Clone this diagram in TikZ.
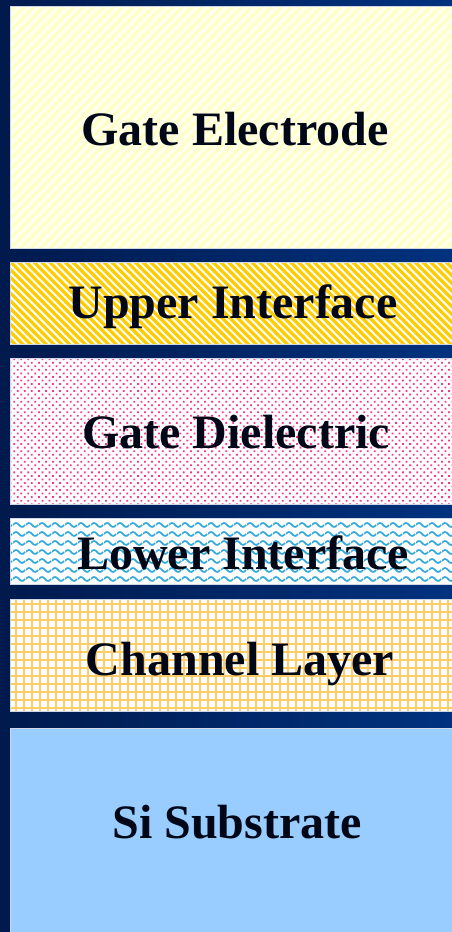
\documentclass[tikz,border=0pt]{standalone}
\usepackage{fontspec}
\setmainfont{Liberation Serif}
\usetikzlibrary{patterns.meta}
\definecolor{navyL}{HTML}{001A4D}
\definecolor{navyR}{HTML}{00327F}
\definecolor{borderc}{HTML}{D0D8E8}
\definecolor{textc}{HTML}{000818}
\definecolor{gateBase}{HTML}{FFFFEA}
\definecolor{gateStripe}{HTML}{FFFFC2}
\definecolor{gold}{HTML}{FFCC00}
\definecolor{pinkdot}{HTML}{FF3388}
\definecolor{wavec}{HTML}{33AADD}
\definecolor{gridc}{HTML}{FFCC66}
\definecolor{sisub}{HTML}{99CCFF}
\pgfdeclarepattern{
  name=mywaves,
  bottom left={\pgfpoint{0pt}{0pt}},
  top right={\pgfpoint{13pt}{8.5pt}},
  tile size={\pgfpoint{13pt}{8.5pt}},
  code={
    \pgfsetlinewidth{1.8pt}
    \pgfpathmoveto{\pgfpoint{0pt}{4.25pt}}
    \pgfpathcurveto{\pgfpoint{2.2pt}{7pt}}{\pgfpoint{4.3pt}{7pt}}{\pgfpoint{6.5pt}{4.25pt}}
    \pgfpathcurveto{\pgfpoint{8.7pt}{1.5pt}}{\pgfpoint{10.8pt}{1.5pt}}{\pgfpoint{13pt}{4.25pt}}
    \pgfusepath{stroke}
  }
}
\begin{document}
\begin{tikzpicture}[x=1pt,y=-1pt,
  layerbox/.style={draw=borderc, line width=1pt},
  lbl/.style={anchor=base, font=\bfseries\fontsize{48}{50}\selectfont, text=textc, inner sep=0pt}]
\useasboundingbox (0,0) rectangle (452,932);
\shade[left color=navyL, right color=navyR] (0,0) rectangle (452,932);
% Gate electrode
\path[layerbox, preaction={fill=gateBase}, pattern={Lines[angle=45,distance=7pt,line width=2.5pt]}, pattern color=gateStripe] (10.5,6) rectangle (460,248);
% Upper interface
\path[layerbox, preaction={fill=gold}, pattern={Lines[angle=-45,distance=5.5pt,line width=2pt]}, pattern color=white] (10.5,262) rectangle (460,344);
% Gate dielectric
\path[layerbox, preaction={fill=white}, pattern={Dots[angle=45,distance=5pt,radius=1.25pt]}, pattern color=pinkdot] (10.5,358) rectangle (460,504);
% Lower interface
\path[layerbox, preaction={fill=white}, pattern=mywaves, pattern color=wavec] (10.5,518) rectangle (460,584);
% Channel layer
\path[layerbox, preaction={fill=white}, pattern={Hatch[angle=0,distance=8pt,line width=2.2pt]}, pattern color=gridc] (10.5,599.5) rectangle (460,711);
% Si substrate
\path[layerbox, fill=sisub] (10.5,728) rectangle (460,940);
% Labels
\node[lbl] (gate) at (235,145) {Gate Electrode};
\node[lbl] (upper) at (233,318) {Upper Interface};
\node[lbl] (diel) at (236,448) {Gate Dielectric};
\node[lbl] (lower) at (243,569) {Lower Interface};
\node[lbl] (chan) at (240,675) {Channel Layer};
\node[lbl] (si) at (237,838) {Si Substrate};
\end{tikzpicture}
\end{document}
